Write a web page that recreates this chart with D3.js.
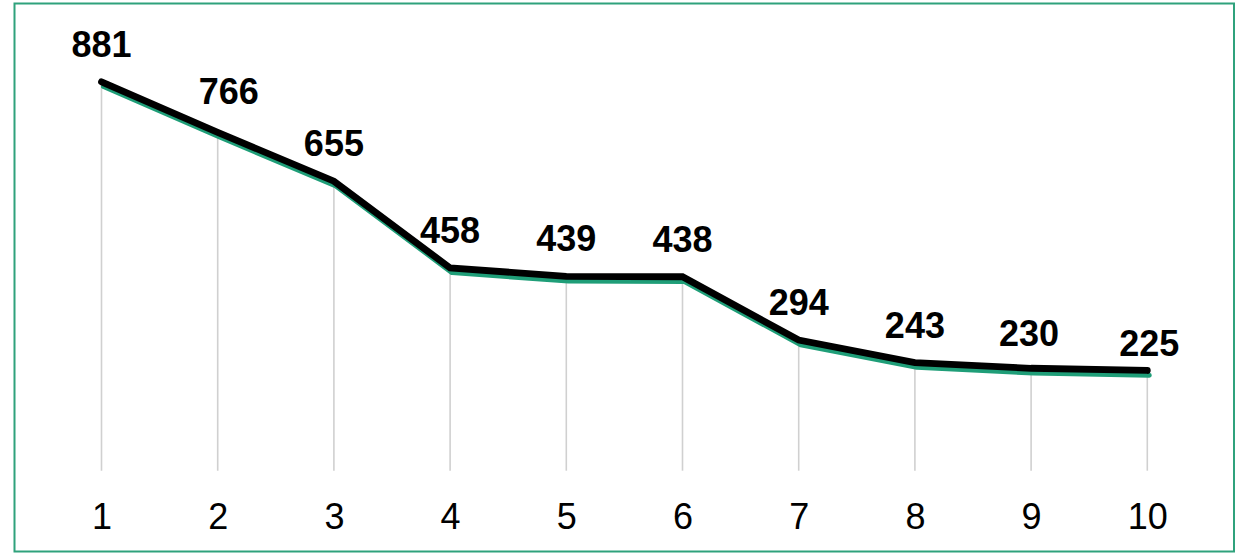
<!DOCTYPE html>
<html>
<head>
<meta charset="utf-8">
<script src="https://cdn.jsdelivr.net/npm/d3@7"></script>
<style>
  html, body { margin: 0; padding: 0; background: #ffffff; }
  svg { display: block; }
</style>
</head>
<body>
<svg id="chart" width="1240" height="553"></svg>
<script>
// Ranked values, one per position 1–10
const categories = [1, 2, 3, 4, 5, 6, 7, 8, 9, 10];
const values = [881, 766, 655, 458, 439, 438, 294, 243, 230, 225];
const tickLabels = ["1", "2", "3", "4", "5", "6", "7", "8", "9", "10"];

// Hand-placed label nudges (dx, dy) keyed by position
const labelNudge = { 2: [11, -4], 9: [-2, 3], 10: [2, 10] };

const svg = d3.select("#chart");

const x = d3.scalePoint().domain(categories).range([101.5, 1147.3]);
const y = d3.scaleLinear().domain([0, 900]).range([470.7, 74.6]);

const data = categories.map((c, i) => ({ c, v: values[i] }));

// Frame
svg.append("rect")
  .attr("x", 14.5).attr("y", 3.5)
  .attr("width", 1219.5).attr("height", 548)
  .attr("fill", "#ffffff")
  .attr("stroke", "#2fa27c")
  .attr("stroke-width", 2);

// Drop lines from each point down to zero
svg.append("g")
  .selectAll("line")
  .data(data)
  .join("line")
  .attr("x1", d => x(d.c)).attr("x2", d => x(d.c))
  .attr("y1", d => y(d.v)).attr("y2", y(0))
  .attr("stroke", "#d0d0d0")
  .attr("stroke-width", 1.6);

const line = d3.line().x(d => x(d.c)).y(d => y(d.v));

// Green series line, with the heavy dark stroke laid over it
svg.append("path")
  .datum(data)
  .attr("d", line)
  .attr("transform", "translate(2,3.5)")
  .attr("fill", "none")
  .attr("stroke", "#1f9e78")
  .attr("stroke-width", 5)
  .attr("stroke-linejoin", "round")
  .attr("stroke-linecap", "round");

svg.append("path")
  .datum(data)
  .attr("d", line)
  .attr("transform", "translate(0,-1.2)")
  .attr("fill", "none")
  .attr("stroke", "#000000")
  .attr("stroke-width", 6.8)
  .attr("stroke-linejoin", "miter")
  .attr("stroke-linecap", "round");

// Value labels
svg.append("g")
  .selectAll("text")
  .data(data)
  .join("text")
  .attr("x", d => x(d.c) + (labelNudge[d.c] ? labelNudge[d.c][0] : 0))
  .attr("y", d => y(d.v) - 26 + (labelNudge[d.c] ? labelNudge[d.c][1] : 0))
  .attr("text-anchor", "middle")
  .attr("font-family", "'Liberation Sans', Arial, sans-serif")
  .attr("font-weight", "bold")
  .attr("font-size", 36)
  .attr("fill", "#000000")
  .text(d => d.v);

// Category axis labels
const axis = d3.axisBottom(x).tickSize(0).tickPadding(0).tickFormat((d, i) => tickLabels[i]);
const gx = svg.append("g")
  .attr("transform", "translate(0,503)")
  .call(axis);
gx.select(".domain").remove();
gx.selectAll("text")
  .attr("font-family", "'Liberation Sans', Arial, sans-serif")
  .attr("font-size", 36)
  .attr("fill", "#000000")
  .attr("dy", "0.71em")
  .attr("y", 0);
</script>
</body>
</html>
